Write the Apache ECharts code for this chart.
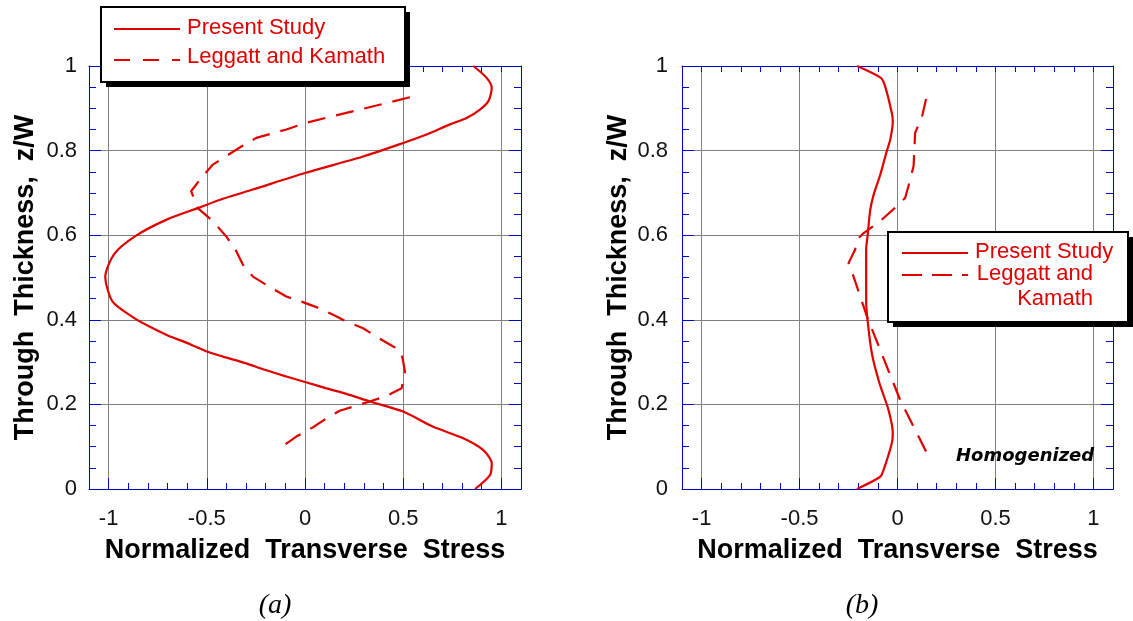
<!DOCTYPE html>
<html>
<head>
<meta charset="utf-8">
<script src="https://cdn.jsdelivr.net/npm/echarts@6/dist/echarts.min.js"></script>
<style>
  html, body { margin: 0; padding: 0; background: #ffffff; }
  #chart { width: 1133px; height: 621px; }
</style>
</head>
<body>
<div id="chart"></div>
<script>
// ---- Panel (a): layered plate ----
const presentA_stress = [0.857, 0.925, 0.951, 0.934, 0.891, 0.823, 0.738, 0.619, 0.5, 0.296, 0.0, -0.265, -0.418, -0.546, -0.699, -0.86, -0.971, -1.017, -0.98, -0.869, -0.792, -0.699, -0.605, -0.5, -0.418, -0.299, -0.214, -0.095, 0.0, 0.109, 0.211, 0.33, 0.5, 0.653, 0.806, 0.908, 0.951, 0.942, 0.866];
const presentA_z      = [1.0, 0.972, 0.948, 0.917, 0.897, 0.877, 0.862, 0.838, 0.818, 0.786, 0.747, 0.708, 0.686, 0.664, 0.638, 0.599, 0.556, 0.502, 0.443, 0.404, 0.384, 0.363, 0.346, 0.325, 0.313, 0.297, 0.283, 0.266, 0.253, 0.238, 0.225, 0.207, 0.183, 0.147, 0.12, 0.092, 0.061, 0.033, 0.0];

const leggattA_stress = [0.534, 0.007, -0.095, -0.248, -0.316, -0.469, -0.529, -0.58, -0.59, -0.546, -0.469, -0.401, -0.354, -0.316, -0.265, -0.171, -0.095, -0.018, 0.058, 0.143, 0.211, 0.296, 0.364, 0.449, 0.483, 0.497, 0.509, 0.492, 0.415, 0.33, 0.177, 0.109, 0.041, -0.044, -0.12];
const leggattA_z      = [0.926, 0.866, 0.85, 0.83, 0.812, 0.767, 0.735, 0.704, 0.7, 0.664, 0.633, 0.597, 0.566, 0.53, 0.502, 0.475, 0.455, 0.443, 0.43, 0.412, 0.396, 0.38, 0.36, 0.337, 0.329, 0.309, 0.278, 0.238, 0.22, 0.207, 0.185, 0.167, 0.146, 0.124, 0.099];

// ---- Panel (b): homogenized plate ----
const presentB_stress = [-0.207, -0.085, -0.063, -0.029, -0.024, -0.037, -0.054, -0.088, -0.119, -0.139, -0.153, -0.16, -0.16, -0.16, -0.153, -0.131, -0.092, -0.046, -0.024, -0.029, -0.071, -0.088, -0.207];
const presentB_z      = [1.0, 0.972, 0.952, 0.889, 0.869, 0.826, 0.8, 0.743, 0.7, 0.66, 0.597, 0.566, 0.5, 0.447, 0.4, 0.321, 0.25, 0.187, 0.132, 0.108, 0.045, 0.029, 0.0];

const leggattB_stress = [0.146, 0.125, 0.09, 0.082, 0.058, 0.039, -0.024, -0.097, -0.173, -0.207, -0.216, -0.25, -0.233, -0.156, -0.054, 0.014, 0.099, 0.158];
const leggattB_z      = [0.922, 0.88, 0.842, 0.763, 0.72, 0.688, 0.66, 0.63, 0.605, 0.589, 0.566, 0.534, 0.514, 0.408, 0.289, 0.21, 0.132, 0.077];

// ---- Axis ranges and tick labels ----
const X_MIN = -1.1, X_MAX = 1.1;
const Y_MIN = 0, Y_MAX = 1;
const xTickLabels = [-1, -0.5, 0, 0.5, 1];
const seriesNames = ['Present Study', 'Leggatt and Kamath'];

const FRAME = '#0000cc';
const GRID = '#808080';
const RED = '#e00000';
const SANS = '"Liberation Sans", Arial, Helvetica, sans-serif';
const SERIF = '"Liberation Serif", "Times New Roman", serif';

const pairs = (xs, ys) => xs.map((x, i) => [x, ys[i]]);

const grids = [
  { left: 89, top: 66, width: 432, height: 423 },
  { left: 682, top: 66, width: 431, height: 423 }
];

function xAxesFor(g) {
  return [
    { // bottom: labels, major ticks, vertical grid lines
      type: 'value', gridIndex: g, position: 'bottom', min: X_MIN, max: X_MAX, splitNumber: 5,
      axisLine: { show: true, onZero: false, lineStyle: { color: FRAME, width: 1 } },
      axisTick: { show: true, inside: true, length: 11, lineStyle: { color: FRAME, width: 1 } },
      axisLabel: {
        margin: 19, fontFamily: SANS, fontSize: 22, color: '#111',
        formatter: v => xTickLabels.some(t => Math.abs(t - v) < 1e-9) ? String(v) : ''
      },
      splitLine: { show: true, lineStyle: { color: GRID, width: 1 } },
      name: 'Normalized  Transverse  Stress', nameLocation: 'middle', nameGap: 48,
      nameTextStyle: { fontFamily: SANS, fontSize: 27, fontWeight: 'bold', color: '#000' }
    },
    { // bottom: minor ticks every 0.1
      type: 'value', gridIndex: g, position: 'bottom', min: X_MIN, max: X_MAX, interval: 0.1,
      axisLine: { show: false, onZero: false },
      axisTick: { show: true, inside: true, length: 6, lineStyle: { color: FRAME, width: 1 } },
      axisLabel: { show: false }, splitLine: { show: false }
    },
    { // top frame with minor ticks
      type: 'value', gridIndex: g, position: 'top', min: X_MIN, max: X_MAX, interval: 0.1,
      axisLine: { show: true, onZero: false, lineStyle: { color: FRAME, width: 1 } },
      axisTick: { show: true, inside: true, length: 6, lineStyle: { color: FRAME, width: 1 } },
      axisLabel: { show: false }, splitLine: { show: false }
    }
  ];
}

function yAxesFor(g, labelMargin) {
  const common = {
    type: 'value', gridIndex: g, min: Y_MIN, max: Y_MAX, interval: 0.2,
    axisLine: { show: true, onZero: false, lineStyle: { color: FRAME, width: 1 } },
    axisTick: { show: true, inside: true, length: 12, lineStyle: { color: FRAME, width: 1 } },
    minorTick: { show: true, splitNumber: 4, length: 7, lineStyle: { color: FRAME, width: 1 } }
  };
  return [
    Object.assign({}, common, {
      position: 'left',
      axisLabel: { margin: labelMargin, fontFamily: SANS, fontSize: 22, color: '#111' },
      splitLine: { show: true, lineStyle: { color: GRID, width: 1 } },
      name: 'Through  Thickness,  z/W', nameLocation: 'middle', nameRotate: 90, nameGap: 50,
      nameTextStyle: { fontFamily: SANS, fontSize: 27, fontWeight: 'bold', color: '#000' }
    }),
    Object.assign({}, common, {
      position: 'right',
      axisLabel: { show: false }, splitLine: { show: false }
    })
  ];
}

function lineSeries(name, xIdx, yIdx, xs, ys, dashed) {
  return {
    type: 'line', name, xAxisIndex: xIdx, yAxisIndex: yIdx,
    data: pairs(xs, ys), symbol: 'none', showSymbol: false, smooth: dashed ? false : 0.25,
    clip: false, silent: true, z: 5,
    lineStyle: { color: RED, width: 2.2, type: dashed ? [18, 11] : 'solid' }
  };
}

// Legend box with a hard drop shadow
function legendBox(x, y, w, h) {
  return [
    { type: 'rect', shape: { x: x + 5, y: y + 5, width: w, height: h }, style: { fill: '#000' }, z: 100 },
    { type: 'rect', shape: { x, y, width: w, height: h }, style: { fill: '#fff', stroke: '#000', lineWidth: 2 }, z: 101 }
  ];
}
function legendLine(x1, x2, y, dash) {
  return { type: 'line', shape: { x1, y1: y, x2, y2: y },
    style: { stroke: RED, lineWidth: 2, lineDash: dash || null }, z: 102 };
}
function legendText(text, x, y, align) {
  return { type: 'text', x, y, z: 102,
    style: { text, fill: RED, font: '22px ' + SANS, textAlign: align || 'left', textVerticalAlign: 'middle' } };
}

const graphics = [].concat(
  legendBox(101, 7, 304, 75),
  [
    legendLine(114, 180, 29),
    legendText(seriesNames[0], 187, 28),
    legendLine(114, 180, 60, [16, 13]),
    legendText(seriesNames[1], 187, 57)
  ],
  legendBox(888, 232, 240, 90),
  [
    legendLine(902, 968, 253),
    legendText(seriesNames[0], 975, 252),
    legendLine(902, 968, 275, [20, 10]),
    legendText('Leggatt and', 1093, 274, 'right'),
    legendText('Kamath', 1093, 299, 'right')
  ],
  [
    { type: 'text', x: 956, y: 456, z: 50,
      style: { text: 'Homogenized', fill: '#000', font: 'italic bold 18px "DejaVu Sans", sans-serif', textAlign: 'left', textVerticalAlign: 'middle' } },
    { type: 'text', x: 275, y: 606, z: 50,
      style: { text: '(a)', fill: '#000', font: 'italic 28px ' + SERIF, textAlign: 'center', textVerticalAlign: 'middle' } },
    { type: 'text', x: 862, y: 606, z: 50,
      style: { text: '(b)', fill: '#000', font: 'italic 28px ' + SERIF, textAlign: 'center', textVerticalAlign: 'middle' } }
  ]
);

const chart = echarts.init(document.getElementById('chart'), null, { renderer: 'canvas' });
chart.setOption({
  animation: false,
  backgroundColor: '#fff',
  grid: grids,
  xAxis: [].concat(xAxesFor(0), xAxesFor(1)),
  yAxis: [].concat(yAxesFor(0, 12), yAxesFor(1, 14)),
  series: [
    lineSeries(seriesNames[0], 0, 0, presentA_stress, presentA_z, false),
    lineSeries(seriesNames[1], 0, 0, leggattA_stress, leggattA_z, true),
    lineSeries(seriesNames[0], 3, 2, presentB_stress, presentB_z, false),
    lineSeries(seriesNames[1], 3, 2, leggattB_stress, leggattB_z, true)
  ],
  graphic: graphics
});
</script>
</body>
</html>
